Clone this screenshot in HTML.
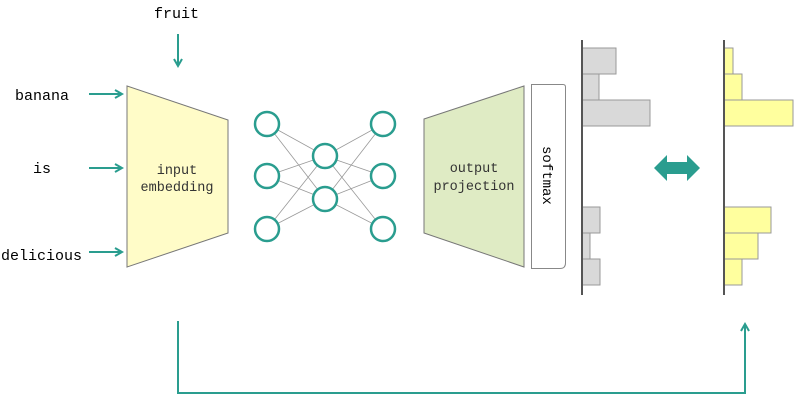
<!DOCTYPE html>
<html><head><style>
body{margin:0;background:#fff;}
svg text{font-family:"Liberation Mono","DejaVu Sans Mono",monospace;}
</style></head><body>
<svg width="800" height="407" viewBox="0 0 800 407" xmlns="http://www.w3.org/2000/svg">
<defs>
<marker id="ah" markerWidth="10" markerHeight="10" refX="8" refY="5" orient="auto" markerUnits="userSpaceOnUse">
<path d="M1,1 L8,5 L1,9" fill="none" stroke="#2a9d8f" stroke-width="2"/>
</marker>
</defs>
<g font-size="15" fill="#000">
<text x="154" y="18">fruit</text>
<text x="15" y="100">banana</text>
<text x="33" y="173">is</text>
<text x="1" y="260">delicious</text>
</g>
<g stroke="#2a9d8f" stroke-width="2" fill="none" marker-end="url(#ah)">
<line x1="178" y1="34" x2="178" y2="66"/>
<line x1="89" y1="94" x2="122" y2="94"/>
<line x1="89" y1="168" x2="122" y2="168"/>
<line x1="89" y1="252" x2="122" y2="252"/>
<polyline points="178,321 178,393 745,393 745,324"/>
</g>
<polygon points="127,86 228,120 228,233 127,267" fill="#fffcc8" stroke="#777" stroke-width="1"/>
<text x="177" y="174" font-size="13.5" text-anchor="middle" fill="#333">input</text>
<text x="177" y="191" font-size="13.5" text-anchor="middle" fill="#333">embedding</text>
<g stroke="#999" stroke-width="0.8">
<line x1="267" y1="124" x2="325" y2="156"/><line x1="267" y1="124" x2="325" y2="199"/>
<line x1="267" y1="176" x2="325" y2="156"/><line x1="267" y1="176" x2="325" y2="199"/>
<line x1="267" y1="229" x2="325" y2="156"/><line x1="267" y1="229" x2="325" y2="199"/>
<line x1="383" y1="124" x2="325" y2="156"/><line x1="383" y1="124" x2="325" y2="199"/>
<line x1="383" y1="176" x2="325" y2="156"/><line x1="383" y1="176" x2="325" y2="199"/>
<line x1="383" y1="229" x2="325" y2="156"/><line x1="383" y1="229" x2="325" y2="199"/>
</g>
<g fill="#fff" stroke="#2a9d8f" stroke-width="2.5">
<circle cx="267" cy="124" r="12"/><circle cx="267" cy="176" r="12"/><circle cx="267" cy="229" r="12"/>
<circle cx="325" cy="156" r="12"/><circle cx="325" cy="199" r="12"/>
<circle cx="383" cy="124" r="12"/><circle cx="383" cy="176" r="12"/><circle cx="383" cy="229" r="12"/>
</g>
<polygon points="424,119 524,86 524,267 424,233" fill="#dfebc4" stroke="#777" stroke-width="1"/>
<text x="474" y="172" font-size="13.5" text-anchor="middle" fill="#333">output</text>
<text x="474" y="190" font-size="13.5" text-anchor="middle" fill="#333">projection</text>
<path d="M531.5,84.5 H563 Q565.5,84.5 565.5,87 V263 Q565.5,268.5 560,268.5 H531.5 Z" fill="#fff" stroke="#888"/>
<text transform="translate(543,146) rotate(90)" font-size="14" fill="#000">softmax</text>
<g fill="#d9d9d9" stroke="#999" stroke-width="1">
<rect x="582" y="48" width="34" height="26"/><rect x="582" y="74" width="17" height="26"/><rect x="582" y="100" width="68" height="26"/>
<rect x="582" y="207" width="18" height="26"/><rect x="582" y="233" width="8" height="26"/><rect x="582" y="259" width="18" height="26"/>
</g>
<g fill="#ffff9e" stroke="#999" stroke-width="1">
<rect x="724" y="48" width="9" height="26"/><rect x="724" y="74" width="18" height="26"/><rect x="724" y="100" width="69" height="26"/>
<rect x="724" y="207" width="47" height="26"/><rect x="724" y="233" width="34" height="26"/><rect x="724" y="259" width="18" height="26"/>
</g>
<line x1="582" y1="40" x2="582" y2="295" stroke="#555" stroke-width="2"/>
<line x1="724" y1="40" x2="724" y2="295" stroke="#555" stroke-width="2"/>
<polygon points="654,168 667,155 667,162 687,162 687,155 700,168 687,181 687,174 667,174 667,181" fill="#2a9d8f"/>
</svg>
</body></html>
